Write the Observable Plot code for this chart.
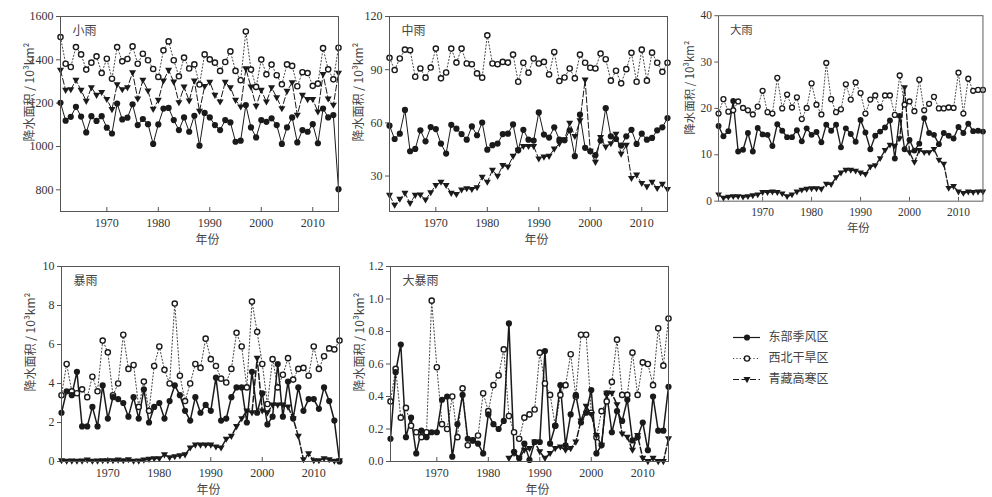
<!DOCTYPE html>
<html><head><meta charset="utf-8">
<script src="https://cdn.jsdelivr.net/npm/d3@7"></script>
<script src="https://cdn.jsdelivr.net/npm/@observablehq/plot@0.6"></script>
<style>
html,body{margin:0;padding:0;background:#fff;overflow:hidden;}
#root{position:relative;width:992px;height:497px;overflow:hidden;background:#fff;}
.panel{position:absolute;}
</style></head><body><div id="root"></div>
<script>
const years = [1961,1962,1963,1964,1965,1966,1967,1968,1969,1970,
  1971,1972,1973,1974,1975,1976,1977,1978,1979,1980,
  1981,1982,1983,1984,1985,1986,1987,1988,1989,1990,
  1991,1992,1993,1994,1995,1996,1997,1998,1999,2000,
  2001,2002,2003,2004,2005,2006,2007,2008,2009,2010,
  2011,2012,2013,2014,2015];
const regions = ["东部季风区","西北干旱区","青藏高寒区"];
const decadeTicks = [1970,1980,1990,2000,2010];

// 小雨
const lightEast = [1202,1119,1137,1183,1138,1065,1140,1118,1140,1087,1060,1198,1125,1133,1195,1099,1127,1103,1012,1102,1175,1178,1122,1076,1134,1068,1142,1004,1155,1134,1099,1076,1122,1111,1022,1027,1191,1088,1042,1122,1114,1130,1099,1012,1088,1134,1019,1076,1068,1103,1015,1175,1134,1145,803];
const lightNW = [1505,1382,1367,1459,1425,1355,1387,1416,1339,1405,1313,1459,1393,1404,1462,1382,1428,1398,1358,1321,1444,1485,1398,1324,1410,1360,1379,1286,1425,1402,1387,1349,1390,1439,1349,1306,1531,1355,1275,1401,1333,1378,1329,1287,1379,1372,1278,1343,1339,1280,1290,1454,1356,1310,1456];
const lightTP = [1352,1260,1263,1306,1260,1209,1272,1237,1250,1218,1171,1286,1263,1272,1341,1220,1306,1257,1172,1214,1303,1352,1298,1203,1275,1211,1303,1163,1278,1297,1237,1206,1297,1272,1214,1183,1359,1275,1186,1260,1206,1272,1226,1175,1255,1295,1145,1237,1217,1218,1160,1333,1220,1191,1339];
// 中雨
const moderateEast = [58.4,50.9,53.9,67.3,44.0,45.3,55.8,49.6,57.6,56.5,48.3,42.7,58.9,56.7,53.7,50.5,58.0,53.0,60.2,44.9,47.4,48.3,53.7,53.9,59.1,44.6,56.1,50.5,50.0,65.9,53.4,51.7,57.5,50.5,50.2,55.8,41.2,64.6,45.9,44.0,41.8,50.0,68.3,52.4,50.9,47.2,52.4,56.1,48.1,53.9,50.5,51.5,55.8,57.5,62.7];
const moderateNW = [96.7,89.8,96.3,101.3,101.0,86.0,90.7,85.5,91.2,101.9,85.1,88.4,101.9,94.0,101.9,93.5,93.1,87.9,85.5,109.4,93.5,93.1,94.4,94.0,98.5,83.2,93.9,88.3,96.3,93.5,94.4,87.3,100.0,83.6,85.6,90.7,85.1,98.5,93.9,91.1,90.7,99.1,95.9,83.8,89.4,82.3,90.3,99.5,83.2,101.3,83.8,99.6,93.9,88.8,93.9];
const moderateTP = [19.2,13.6,17.0,20.3,14.7,19.2,19.4,16.6,20.7,24.8,26.6,24.8,20.3,19.7,22.2,22.9,22.5,23.5,29.4,26.6,33.4,30.0,36.0,35.2,41.2,44.6,46.8,46.8,46.8,39.7,40.8,41.2,45.3,48.3,50.5,59.9,52.4,61.2,84.2,44.0,37.8,51.8,46.4,48.3,53.7,42.5,47.4,28.7,30.6,25.9,24.0,26.6,23.1,25.4,22.5];
// 大雨
const heavyEast = [16.2,14.0,15.1,21.6,10.7,11.1,14.7,10.7,15.8,14.4,14.3,11.9,16.6,15.2,13.8,13.8,15.3,12.9,15.7,14.3,14.9,12.7,16.5,15.2,16.5,11.6,15.7,14.5,12.8,17.5,14.8,11.2,14.1,15.0,15.9,17.4,9.2,18.4,11.2,13.2,10.9,12.4,17.9,14.7,14.3,12.3,14.7,14.1,13.5,16.0,14.7,16.7,15.1,15.2,15.0];
const heavyNW = [18.9,22.0,19.3,19.6,21.5,20.1,19.6,18.7,20.4,23.8,19.2,18.9,26.6,20.0,23.0,20.2,22.4,17.7,20.1,25.4,20.8,18.7,29.8,22.0,19.2,19.8,25.2,21.9,25.6,23.3,18.9,21.9,22.8,20.2,22.8,22.8,18.6,27.1,20.8,21.5,19.4,26.2,19.6,21.0,22.5,20.0,20.0,20.2,20.1,27.7,18.9,26.4,23.8,24.0,24.0];
const heavyTP = [1.4,0.7,0.9,1.0,1.0,0.9,1.0,1.2,1.4,1.9,1.9,2.0,1.9,1.6,1.0,1.4,2.0,2.4,2.6,2.7,2.7,2.6,3.7,3.6,5.1,6.1,6.7,6.7,6.5,6.1,5.8,7.4,7.7,9.2,11.0,12.1,11.9,13.5,24.5,10.5,8.4,11.0,10.5,10.5,11.2,8.9,8.0,2.8,3.2,2.0,1.7,2.0,1.9,2.0,2.0];
// 暴雨
const stormEast = [2.5,3.6,3.4,4.6,1.8,1.8,2.8,1.8,3.9,2.2,3.3,3.2,3.0,2.3,3.3,2.2,3.7,2.0,2.8,3.0,2.2,3.1,3.9,3.4,2.6,2.1,3.3,2.5,2.9,2.6,4.3,2.1,2.2,3.3,3.8,3.8,2.0,4.6,2.5,3.5,1.9,2.3,5.0,2.3,4.1,2.2,3.8,2.6,3.2,3.2,2.7,3.8,3.1,2.1,0.0];
const stormNW = [3.4,5.0,3.6,3.5,3.7,3.3,4.35,3.6,6.2,5.6,3.4,4.0,6.5,4.75,4.95,2.8,4.1,2.6,4.9,5.9,4.7,4.0,8.1,4.4,3.1,4.0,5.0,4.8,6.3,5.25,4.9,4.25,4.05,4.75,6.6,5.9,3.8,8.2,6.65,5.0,2.95,5.25,3.8,4.45,5.3,4.2,4.75,4.8,4.4,5.9,4.75,5.4,5.8,5.75,6.2];
const stormTP = [0.05,0.02,0.03,0.02,0.03,0.08,0.02,0.03,0.05,0.05,0.05,0.08,0.05,0.1,0.02,0.03,0.08,0.12,0.15,0.15,0.35,0.2,0.25,0.3,0.35,0.7,0.85,0.85,0.85,0.85,0.75,0.7,1.15,1.3,1.8,2.2,2.6,2.5,5.3,2.6,2.5,2.9,2.9,2.9,2.8,2.2,1.3,0.1,0.4,0.05,0.05,0.15,0.1,0.02,0.05];
// 大暴雨
const extremeEast = [0.14,0.55,0.72,0.15,0.27,0.05,0.19,0.15,0.18,0.18,0.38,0.40,0.03,0.23,0.41,0.14,0.13,0.11,0.05,0.29,0.23,0.20,0.25,0.85,0.06,0.02,0.11,0.01,0.12,0.12,0.68,0.11,0.22,0.47,0.10,0.29,0.41,0.24,0.30,0.44,0.05,0.10,0.42,0.18,0.31,0.25,0.38,0.13,0.15,0.24,0.07,0.40,0.19,0.19,0.46];
const extremeNW = [0.37,0.57,0.27,0.33,0.22,0.18,0.15,0.18,0.99,0.58,0.23,0.20,0.40,0.15,0.45,0.10,0.13,0.16,0.42,0.31,0.47,0.53,0.69,0.28,0.18,0.14,0.27,0.29,0.32,0.67,0.48,0.41,0.22,0.41,0.47,0.66,0.40,0.78,0.78,0.30,0.15,0.31,0.37,0.49,0.75,0.41,0.41,0.67,0.41,0.61,0.60,0.47,0.82,0.59,0.88];
const extremeTP = [null,null,null,null,null,null,null,null,null,null,null,null,null,null,null,null,null,null,null,null,null,null,null,0.02,0.05,0.02,0.07,0.08,0.12,0.06,0.02,0.05,0.08,0.09,0.07,0.08,0.12,0.25,0.34,0.29,0.16,0.1,0.42,0.42,0.35,0.17,0.15,0.07,0.16,0.02,0.0,0.02,0.0,0.0,0.14];

const yLabel = "降水面积 / 10³km²";
const xLabel = "年份";

const panels = [
  {title:"小雨", east:lightEast, nw:lightNW, tp:lightTP, domain:[700,1600], ticks:[800,1000,1200,1400,1600], fmt:d3.format("d"), left:0, top:0, sw:1},
  {title:"中雨", east:moderateEast, nw:moderateNW, tp:moderateTP, domain:[10,120], ticks:[30,60,90,120], fmt:d3.format("d"), left:329, top:0, sw:1},
  {title:"大雨", east:heavyEast, nw:heavyNW, tp:heavyTP, domain:[0,40], ticks:[0,10,20,30,40], fmt:d3.format("d"), left:661, top:0, sw:1.4},
  {title:"暴雨", east:stormEast, nw:stormNW, tp:stormTP, domain:[0,10], ticks:[0,2,4,6,8,10], fmt:d3.format("d"), left:1, top:250, sw:1.5},
  {title:"大暴雨", east:extremeEast, nw:extremeNW, tp:extremeTP, domain:[0,1.2], ticks:[0,0.2,0.4,0.6,0.8,1.0,1.2], fmt:d3.format(".1f"), left:330, top:250, sw:1.5}
];

const CJK = '"Noto Sans CJK SC", "Noto Sans", sans-serif';
const SERIF = '"Liberation Serif", "DejaVu Serif", serif';
const INK = "#1a1a1a";

const triDown = {draw(ctx, size){
  const s = Math.sqrt(size);
  ctx.moveTo(-0.62*s, -0.42*s);
  ctx.lineTo(0.62*s, -0.42*s);
  ctx.lineTo(0, 0.66*s);
  ctx.closePath();
}};

function rows(vals){ return years.map((y,i)=>({year:y, v: vals[i]})); }
const def = d => d.v != null;

function makePanel(p){
  const E = rows(p.east), N = rows(p.nw), T = rows(p.tp);
  const FH = 195;
  return Plot.plot({
    width: 348, height: 247,
    marginLeft: 60, marginRight: 10, marginTop: 16, marginBottom: 36,
    style: {fontFamily: SERIF, fontSize: "12px", color: "#333", background: "transparent", overflow: "visible"},
    x: {domain: [1961, 2015]},
    y: {domain: p.domain},
    marks: [
      Plot.axisY({ticks: p.ticks, tickSize: 4, tickPadding: 3, tickFormat: p.fmt, label: null, stroke: "#555"}),
      Plot.axisX({ticks: decadeTicks, tickSize: 0, tickPadding: 7, tickFormat: d => String(d), label: null}),
      Plot.tickX(decadeTicks, {x: d => d, insetTop: FH - 4, stroke: "#555"}),
      Plot.line(N, {x: "year", y: "v", stroke: "#444", strokeWidth: 1, strokeDasharray: "1.2,2.2"}),
      Plot.line(T, {x: "year", y: "v", stroke: INK, strokeWidth: p.sw, strokeDasharray: "6,2.5"}),
      Plot.line(E, {x: "year", y: "v", stroke: INK, strokeWidth: p.sw}),
      Plot.dot(N.filter(def), {x: "year", y: "v", r: 2.6, fill: "white", stroke: INK, strokeWidth: 1.4}),
      Plot.dot(T.filter(def), {x: "year", y: "v", symbol: triDown, r: 3.2, fill: INK, stroke: "none"}),
      Plot.dot(E.filter(def), {x: "year", y: "v", r: 3.1, fill: INK, stroke: "none"}),
      Plot.frame({stroke: "#555", strokeWidth: 1}),
      Plot.text([p.title], {text: d => d, frameAnchor: "top-left", dx: 12, dy: 15, textAnchor: "start", lineAnchor: "middle", fontFamily: CJK, fontSize: 12, fill: "#444"}),
      Plot.text([yLabel], {text: d => d, frameAnchor: "left", dx: -30, dy: -22, rotate: -90, textAnchor: "middle", lineAnchor: "middle", fontFamily: CJK, fontSize: 12, fill: "#444"}),
      Plot.text([xLabel], {text: d => d, frameAnchor: "bottom", dx: 8, dy: 29, textAnchor: "middle", lineAnchor: "middle", fontFamily: CJK, fontSize: 12, fill: "#444"})
    ]
  });
}

const root = document.getElementById("root");
for (const p of panels) {
  const el = makePanel(p);
  const wrap = document.createElement("div");
  wrap.className = "panel";
  wrap.style.left = p.left + "px";
  wrap.style.top = p.top + "px";
  wrap.appendChild(el);
  root.appendChild(wrap);
}

// legend
const legendDash = {"东部季风区": null, "西北干旱区": "1.2,2.2", "青藏高寒区": "6,2.5"};
const legendMarks = [];
for (const name of regions) {
  legendMarks.push(Plot.ruleY([name], {y: d => d, x1: 0, x2: 1, stroke: name === "西北干旱区" ? "#444" : INK, strokeWidth: 1.2, strokeDasharray: legendDash[name] || undefined}));
}
legendMarks.push(Plot.dot([regions[0]], {x: 0.5, y: d => d, r: 3.1, fill: INK}));
legendMarks.push(Plot.dot([regions[1]], {x: 0.5, y: d => d, r: 2.6, fill: "white", stroke: INK, strokeWidth: 1.4}));
legendMarks.push(Plot.dot([regions[2]], {x: 0.5, y: d => d, symbol: triDown, r: 3.2, fill: INK}));
legendMarks.push(Plot.text(regions, {x: 1, y: d => d, text: d => d, dx: 8, textAnchor: "start", fontFamily: CJK, fontSize: 12, fill: "#444"}));
const legend = Plot.plot({
  width: 140, height: 110, margin: 0,
  style: {background: "transparent", overflow: "visible"},
  x: {domain: [0, 1], range: [3, 30], axis: null},
  y: {type: "point", domain: regions, range: [20, 85], axis: null},
  marks: legendMarks
});
const lw = document.createElement("div");
lw.className = "panel";
lw.style.left = "730px";
lw.style.top = "305px";
lw.appendChild(legend);
root.appendChild(lw);
</script>
</body></html>
